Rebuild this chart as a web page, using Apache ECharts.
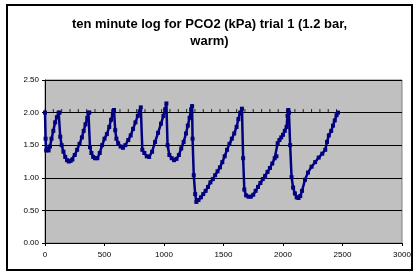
<!DOCTYPE html>
<html>
<head>
<meta charset="utf-8">
<script src="https://cdn.jsdelivr.net/npm/echarts@6/dist/echarts.min.js"></script>
<style>
  html, body { margin: 0; padding: 0; background: #fff; }
  #main { width: 419px; height: 275px; }
</style>
</head>
<body>
<div id="main"></div>
<script>
// time (s) and PCO2 (kPa)
const timeSec = [
  0, 5, 10, 20, 30, 42, 55, 70, 85, 100, 115, 122,
  128, 140, 155, 170, 185, 200, 215, 230, 250, 270, 290, 310, 325, 340, 355, 365, 372,
  378, 390, 405, 420, 440, 460, 480, 500, 520, 540, 555, 570, 580,
  590, 600, 615, 635, 655, 675, 700, 720, 740, 760, 780, 795, 805,
  818, 835, 855, 875, 900, 925, 950, 975, 995, 1010, 1020,
  1030, 1045, 1065, 1085, 1105, 1125, 1145, 1165, 1185, 1200, 1215, 1228, 1236,
  1240, 1250, 1262, 1272, 1290, 1310, 1330, 1350, 1370, 1390, 1410, 1430, 1450, 1470, 1490,
  1510, 1530, 1550, 1570, 1590, 1610, 1625, 1640, 1655,
  1665, 1675, 1690, 1710, 1730, 1750, 1770, 1790, 1810, 1830, 1850, 1870, 1890, 1910, 1930, 1945,
  1955, 1970, 1985, 2000, 2015, 2030, 2038, 2045, 2050,
  2060, 2072, 2085, 2100, 2115, 2130, 2145, 2160, 2185, 2210, 2240, 2270, 2300, 2330, 2355,
  2370, 2385, 2405, 2420, 2435, 2450, 2462
];
const pco2 = [
  2.00, 1.60, 1.42, 1.45, 1.42, 1.48, 1.60, 1.72, 1.85, 1.93, 2.00, 2.00,
  1.63, 1.50, 1.40, 1.32, 1.27, 1.25, 1.26, 1.28, 1.35, 1.43, 1.52, 1.62, 1.72, 1.82, 1.92, 2.00, 2.00,
  1.47, 1.38, 1.32, 1.30, 1.30, 1.38, 1.50, 1.60, 1.67, 1.78, 1.89, 1.98, 2.04,
  1.73, 1.60, 1.53, 1.48, 1.46, 1.50, 1.58, 1.65, 1.75, 1.85, 1.95, 2.02, 2.08,
  1.43, 1.38, 1.33, 1.32, 1.40, 1.55, 1.69, 1.83, 1.95, 2.05, 2.14,
  1.50, 1.35, 1.30, 1.27, 1.29, 1.35, 1.45, 1.55, 1.68, 1.80, 1.92, 2.05, 2.10,
  1.60, 1.04, 0.75, 0.63, 0.66, 0.70, 0.75, 0.80, 0.86, 0.93, 0.98, 1.04, 1.10, 1.16, 1.24,
  1.33, 1.43, 1.52, 1.60, 1.68, 1.78, 1.90, 2.00, 2.06,
  1.30, 0.82, 0.73, 0.71, 0.71, 0.74, 0.80, 0.86, 0.92, 0.98, 1.03, 1.09, 1.15, 1.22, 1.30, 1.33,
  1.53, 1.58, 1.62, 1.66, 1.72, 1.78, 1.95, 2.04, 2.00,
  1.50, 1.01, 0.85, 0.76, 0.70, 0.69, 0.72, 0.80, 0.97, 1.08, 1.17, 1.24, 1.31, 1.37, 1.43,
  1.55, 1.65, 1.72, 1.80, 1.88, 1.96, 2.00
];
// small tick marks sitting on the 2.00 line
const limitTimes = [0, 70, 140, 210, 280, 350, 420, 490, 560, 630, 700, 770, 840, 910, 980, 1050,
  1120, 1190, 1260, 1330, 1400, 1470, 1540, 1610, 1680, 1750, 1820, 1890, 1960, 2030,
  2100, 2170, 2240, 2310, 2380, 2450];
const limitValue = 2.00;

const chart = echarts.init(document.getElementById('main'));
const font = '"Liberation Sans Narrow", "Liberation Sans", Arial, sans-serif';

chart.setOption({
  animation: false,
  backgroundColor: '#fff',
  graphic: [{
    type: 'rect',
    shape: { x: 7, y: 5, width: 405, height: 265 },
    style: { fill: 'none', stroke: '#000', lineWidth: 2 }
  }],
  title: {
    text: 'ten minute log for PCO2 (kPa) trial 1 (1.2 bar,\nwarm)',
    left: 'center',
    top: 11,
    textStyle: {
      fontFamily: '"Liberation Sans", Arial, sans-serif',
      fontSize: 13, fontWeight: 'bold', color: '#000', lineHeight: 17
    }
  },
  grid: {
    left: 45, right: 17, top: 80, bottom: 32,
    show: true, backgroundColor: '#c0c0c0', borderColor: '#808080', borderWidth: 1
  },
  xAxis: {
    type: 'value', min: 0, max: 3000, interval: 500,
    axisLine: { lineStyle: { color: '#000', width: 1 } },
    axisTick: { show: true, length: 3, lineStyle: { color: '#000' } },
    axisLabel: { color: '#000', fontSize: 8, fontFamily: font, margin: 8,
      formatter: v => String(v) },
    splitLine: { show: false }
  },
  yAxis: {
    type: 'value', min: 0, max: 2.5, interval: 0.5,
    axisLine: { show: true, lineStyle: { color: '#000', width: 1 } },
    axisTick: { show: true, length: 3, lineStyle: { color: '#000' } },
    axisLabel: { color: '#000', fontSize: 8, fontFamily: font, margin: 6,
      formatter: v => v.toFixed(2) },
    splitLine: { show: true, lineStyle: { color: '#000', width: 1 } }
  },
  series: [
    {
      type: 'scatter',
      data: limitTimes.map(t => [t, limitValue]),
      symbol: 'rect', symbolSize: [1, 3], symbolOffset: [0, -2],
      itemStyle: { color: '#000' }, silent: true, z: 1
    },
    {
      type: 'line',
      data: timeSec.map((t, i) => [t, pco2[i]]),
      symbol: 'rect', symbolSize: 4, showAllSymbol: true,
      lineStyle: { color: '#000080', width: 2.5 },
      itemStyle: { color: '#000080' }, z: 3
    }
  ]
});
</script>
</body>
</html>
